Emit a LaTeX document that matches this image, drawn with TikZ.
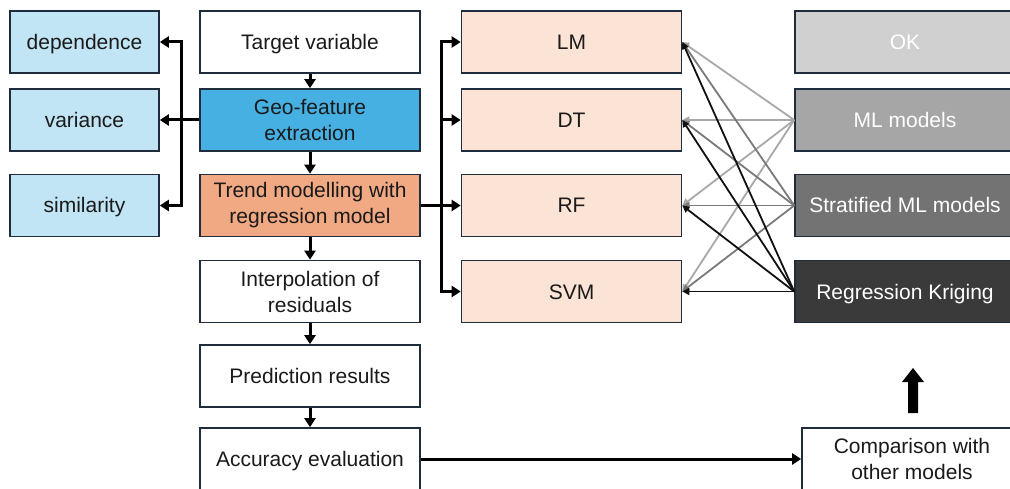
\documentclass[tikz,border=0pt]{standalone}
\usepackage{fontspec}
\setmainfont{Liberation Sans}
\usetikzlibrary{arrows.meta}
\definecolor{lblue}{HTML}{C1E5F5}
\definecolor{mblue}{HTML}{45B0E1}
\definecolor{orng}{HTML}{F1A983}
\definecolor{peach}{HTML}{FBE3D6}
\definecolor{edgec}{HTML}{1E2C3C}
\definecolor{gA}{HTML}{D0D0D0}
\definecolor{gB}{HTML}{A6A6A6}
\definecolor{gC}{HTML}{737373}
\definecolor{gD}{HTML}{3A3A3A}
\definecolor{lnB}{HTML}{A8A8A8}
\definecolor{lnC}{HTML}{7A7A7A}
\definecolor{lnD}{HTML}{111111}
\definecolor{txt}{HTML}{1A1A1A}
\begin{document}
\begin{tikzpicture}[x=1pt,y=-1pt,
  box/.style={draw=edgec,line width=1.6pt,minimum width=220pt,minimum height=62pt,inner sep=2pt,align=center,text=txt,font=\fontsize{21}{26}\selectfont},
  one/.style={text height=15pt,text depth=0pt},
  sbox/.style={box,minimum width=149pt},
  conn/.style={line width=3pt,-{Triangle[length=9pt,width=11pt]}},
  plain/.style={line width=3pt},
  cross/.style={line width=1.8pt,-{Triangle[length=7pt,width=7pt]}}]
\useasboundingbox (0,0) rectangle (1010,489);
\clip (0,0) rectangle (1010,489);
% left column
\node[sbox,one,fill=lblue] (dep) at (84.5,42) {dependence};
\node[sbox,one,fill=lblue] (var) at (84.5,120) {variance};
\node[sbox,one,fill=lblue] (sim) at (84.5,205.5) {similarity};
% centre column
\node[box,one,fill=white] (tv) at (310,42) {Target variable};
\node[box,fill=mblue] (gf) at (310,120) {Geo-feature\\extraction};
\node[box,fill=orng] (tr) at (310,205.5) {Trend modelling with\\regression model};
\node[box,fill=white] (ip) at (310,291.5) {Interpolation of\\residuals};
\node[box,one,fill=white] (pr) at (310,376) {Prediction results};
\node[box,one,fill=white] (ac) at (310,459) {Accuracy evaluation};
% models
\node[box,one,fill=peach] (lm) at (571.5,42) {LM};
\node[box,one,fill=peach] (dt) at (571.5,120) {DT};
\node[box,one,fill=peach] (rf) at (571.5,205.5) {RF};
\node[box,one,fill=peach] (svm) at (571.5,291.5) {SVM};
% right column
\node[box,one,fill=gA,text=white] (ok) at (905,42) {OK};
\node[box,one,fill=gB,text=white] (ml) at (905,120) {ML models};
\node[box,one,fill=gC,text=white] (st) at (905,205.5) {Stratified ML models};
\node[box,one,fill=gD,text=white] (rk) at (905,291.5) {Regression Kriging};
\node[box,fill=white] (cmp) at (912,459) {Comparison with\\other models};
% centre flow
\draw[conn] (tv) -- (gf);
\draw[conn] (gf) -- (tr);
\draw[conn] (tr) -- (ip);
\draw[conn] (ip) -- (pr);
\draw[conn] (pr) -- (ac);
\draw[conn] (ac) -- (cmp);
% left bracket
\coordinate (lj) at (181,120);
\draw[conn] (gf.west) -- (var.east);
\draw[conn] (lj) |- (dep.east);
\draw[conn] (lj) |- (sim.east);
% right bracket
\coordinate (rj) at (441,205.5);
\draw[plain] (tr.east) -- (rj);
\draw[conn] (rj) |- (lm.west);
\draw[conn] (rj) |- (dt.west);
\draw[conn] (rj) -- (rf.west);
\draw[conn] (rj) |- (svm.west);
% crossing lines
\foreach \m in {lm,dt,rf,svm}{
  \draw[cross,draw=lnB,fill=lnB] (ml.west) -- (\m.east);
}
\foreach \m in {lm,dt,rf,svm}{
  \draw[cross,draw=lnC,fill=lnC] (st.west) -- (\m.east);
}
\foreach \m in {lm,dt,rf,svm}{
  \draw[cross,draw=lnD,fill=lnD] (rk.west) -- (\m.east);
}
% block arrow
\coordinate (ba) at (913,413);
\fill[black] (ba) ++(-5,0) -- ++(0,-31) -- ++(-6,0) -- (913,368) -- (924,382) -- ++(-6,0) -- ++(0,31) -- cycle;
\end{tikzpicture}
\end{document}
